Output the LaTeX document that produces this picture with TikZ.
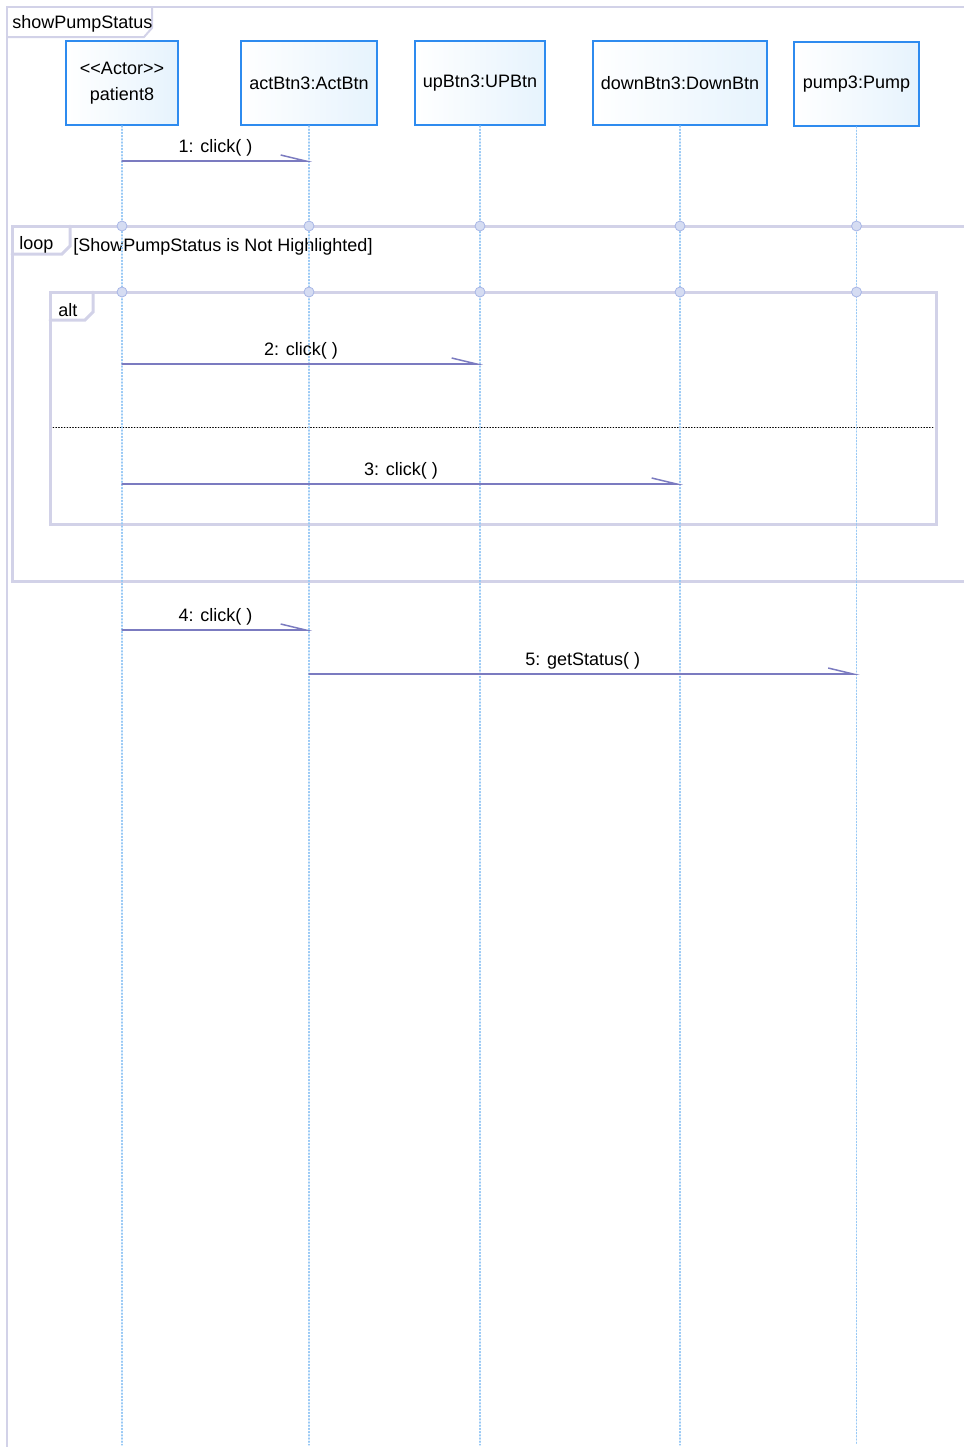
\documentclass[tikz,border=0pt]{standalone}
\usepackage{fontspec}
\setmainfont{Liberation Sans}
\usetikzlibrary{arrows.meta}

\definecolor{headline}{HTML}{2E8BEF}
\definecolor{headfill}{HTML}{E6F3FD}
\definecolor{lifecol}{HTML}{99C9F5}
\definecolor{framecol}{HTML}{D2D2E8}
\definecolor{msgcol}{HTML}{7B7BC0}
\definecolor{dotfill}{HTML}{D5DCF2}
\definecolor{dotline}{HTML}{A8B6E6}

\begin{document}
\begin{tikzpicture}[x=0.5pt, y=-0.5pt, font=\fontsize{9}{13}\selectfont, line cap=round,
    head/.style={draw=headline, line width=0.9pt, left color=white, right color=headfill,
      align=center, inner sep=0pt, minimum height=42pt},
    lifeline/.style={draw=lifecol, densely dotted, line width=0.6pt},
    frame/.style={draw=framecol, line width=1.5pt},
    msg/.style={draw=msgcol, line width=0.75pt,
      -{Straight Barb[left, length=12.5pt, width=6pt]}, shorten >=-1.5pt},
    msglabel/.style={above, inner sep=2pt},
    joint/.style={circle, draw=dotline, fill=dotfill, inner sep=0pt,
      minimum size=5pt, line width=0.4pt},
    kw/.style={anchor=west, inner sep=0pt}]

  \useasboundingbox (0,0) rectangle (964,1447);

  % message rows and lifeline end
  \coordinate (r1)  at (0,161);
  \coordinate (r2)  at (0,364);
  \coordinate (r3)  at (0,484);
  \coordinate (r4)  at (0,630);
  \coordinate (r5)  at (0,674);
  \coordinate (bot) at (0,1445);

  % diagram frame
  \draw[frame, line width=1pt] (964,7) -- (7,7) -- (7,1447);
  \draw[frame, line width=1pt] (7,37) -- (144,37) -- (152,28) -- (152,7);
  \node[kw] (title) at (12,24) {showPumpStatus};

  % lifeline heads
  \node[head, minimum width=56pt]   (patient) at (122,83)   {<{}<Actor>{}>\\patient8};
  \node[head, minimum width=68pt]   (actBtn)  at (309,83)   {actBtn3:ActBtn};
  \node[head, minimum width=65pt]   (upBtn)   at (480,83)   {upBtn3:UPBtn};
  \node[head, minimum width=87pt]   (downBtn) at (680,83)   {downBtn3:DownBtn};
  \node[head, minimum width=62.5pt] (pump)    at (856.5,84) {pump3:Pump};

  % loop fragment
  \draw[frame] (964,226) -- (12,226) -- (12,581) -- (964,581);
  \draw[frame] (12,254) -- (62,254) -- (70,246) -- (70,226);
  \node[kw] (loopkw) at (19,245) {loop};
  \node[kw] (guard)  at (73,247) {[ShowPumpStatus is Not Highlighted]};

  % alt fragment
  \draw[frame] (50,292) rectangle (936,524);
  \draw[frame] (50,320) -- (85,320) -- (93,312) -- (93,292);
  \node[kw] (altkw) at (58,310) {alt};
  \draw[densely dotted, line width=0.4pt] (53,427) -- (934,427);

  % lifelines
  \foreach \n in {patient, actBtn, upBtn, downBtn, pump}
    \draw[lifeline] (\n.south) -- (\n.south |- bot);

  % fragment joints
  \foreach \n in {patient, actBtn, upBtn, downBtn, pump} {
    \node[joint] (\n-loop) at (\n.south |- 0,226) {};
    \node[joint] (\n-alt)  at (\n.south |- 0,292) {};
  }

  % messages
  \draw[msg] (patient |- r1) -- (actBtn |- r1)  node[msglabel, midway] (m1) {1: click( )};
  \draw[msg] (patient |- r2) -- (upBtn |- r2)   node[msglabel, midway] (m2) {2: click( )};
  \draw[msg] (patient |- r3) -- (downBtn |- r3) node[msglabel, midway] (m3) {3: click( )};
  \draw[msg] (patient |- r4) -- (actBtn |- r4)  node[msglabel, midway] (m4) {4: click( )};
  \draw[msg] (actBtn |- r5)  -- (pump |- r5)    node[msglabel, midway] (m5) {5: getStatus( )};

\end{tikzpicture}
\end{document}
